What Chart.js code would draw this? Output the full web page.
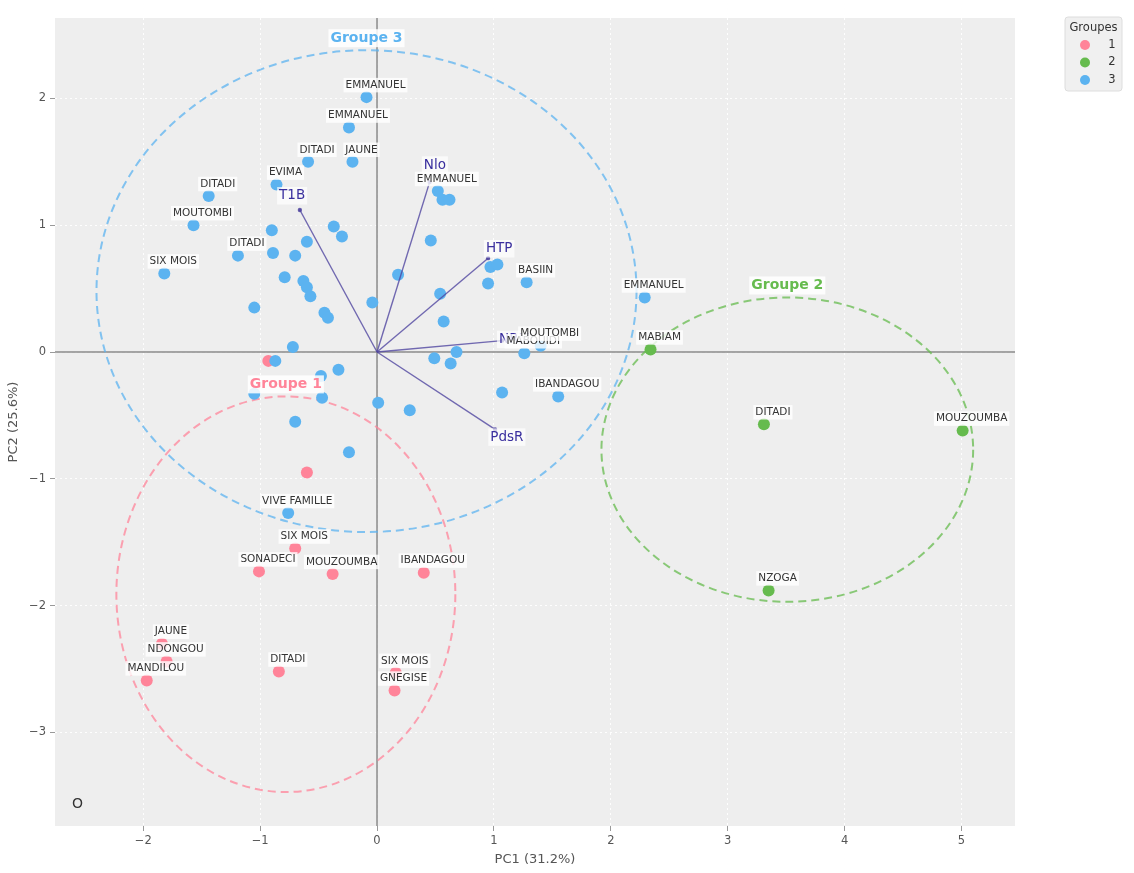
<!DOCTYPE html>
<html>
<head>
<meta charset="utf-8">
<script src="https://cdn.jsdelivr.net/npm/chart.js@4.4.0/dist/chart.umd.min.js"></script>
<style>
html, body { margin: 0; padding: 0; background: #fff; }
#wrap { width: 1134px; height: 873px; }
</style>
</head>
<body>
<div id="wrap"><canvas id="pca"></canvas></div>
<script>
// Groupe 1
var g1Names = ['', '', 'SIX MOIS', 'SONADECI', 'MOUZOUMBA', 'IBANDAGOU', 'JAUNE', 'NDONGOU', 'MANDILOU', 'DITADI', 'SIX MOIS', 'GNEGISE'];
var g1X = [-0.93, -0.60, -0.70, -1.01, -0.38, 0.40, -1.84, -1.80, -1.97, -0.84, 0.16, 0.15];
var g1Y = [-0.07, -0.95, -1.55, -1.73, -1.75, -1.74, -2.30, -2.44, -2.59, -2.52, -2.53, -2.67];

// Groupe 2
var g2Names = ['MABIAM', 'DITADI', 'MOUZOUMBA', 'NZOGA'];
var g2X = [2.34, 3.31, 5.01, 3.35];
var g2Y = [0.02, -0.57, -0.62, -1.88];

// Groupe 3
var g3Names = ['EMMANUEL', 'EMMANUEL', 'DITADI', 'JAUNE', 'EVIMA', 'DITADI', 'MOUTOMBI', 'DITADI', 'SIX MOIS',
  '', '', '', '', '', '', '', '', '', '', '', '', '', '', '', '', '', '', '', '', '', '', '', '',
  'VIVE FAMILLE', 'EMMANUEL', '', '', '', '', '', '', 'BASIIN', '', '', 'MABOUIDI', 'MOUTOMBI',
  '', '', '', '', 'IBANDAGOU', '', 'EMMANUEL'];
var g3X = [-0.09, -0.24, -0.59, -0.21, -0.86, -1.44, -1.57, -1.19, -1.82,
  -0.90, -0.37, -0.30, -0.60, -0.89, -0.70, -0.79, -0.63, -0.60, -0.57, -1.05, -0.45, -0.42, -0.04,
  0.18, -0.72, -0.87, -0.33, -0.48, -1.05, -0.47, 0.01, -0.70, -0.24,
  -0.76, 0.52, 0.56, 0.62, 0.46, 0.97, 1.03, 0.95, 1.28, 0.54, 0.57, 1.26, 1.40,
  0.68, 0.49, 0.63, 1.07, 1.55, 0.28, 2.29];
var g3Y = [2.01, 1.77, 1.50, 1.50, 1.32, 1.23, 1.00, 0.76, 0.62,
  0.96, 0.99, 0.91, 0.87, 0.78, 0.76, 0.59, 0.56, 0.51, 0.44, 0.35, 0.31, 0.27, 0.39,
  0.61, 0.04, -0.07, -0.14, -0.19, -0.33, -0.36, -0.40, -0.55, -0.79,
  -1.27, 1.27, 1.20, 1.20, 0.88, 0.67, 0.69, 0.54, 0.55, 0.46, 0.24, -0.01, 0.05,
  0.00, -0.05, -0.09, -0.32, -0.35, -0.46, 0.43];

// variable loadings (biplot arrows)
var varNames = ['T1B', 'Nlo', 'HTP', 'NRM', 'PdsR'];
var varX = [-0.66, 0.45, 0.95, 1.07, 1.01];
var varY = [1.12, 1.34, 0.74, 0.09, -0.61];

// group ellipses
var groupNames = ['Groupe 1', 'Groupe 2', 'Groupe 3'];
var ellCx = [-0.78, 3.51, -0.09];
var ellCy = [-1.91, -0.77, 0.48];
var ellRx = [1.45, 1.59, 2.31];
var ellRy = [1.56, 1.20, 1.90];

var xTicks = [-2, -1, 0, 1, 2, 3, 4, 5];
var yTicks = [-3, -2, -1, 0, 1, 2];

var colors = ['#ff8499', '#66bb4e', '#5cb3f0'];
var FONT = '"DejaVu Sans", sans-serif';

function toPoints(xs, ys) {
  return xs.map(function (x, i) { return { x: x, y: ys[i] }; });
}

function fmt(v) {
  return v < 0 ? '\u2212' + Math.abs(v) : String(v);
}

function labelBox(ctx, text, x, y, size, weight, color, alpha) {
  ctx.font = weight + ' ' + size + 'px ' + FONT;
  var w = ctx.measureText(text).width;
  ctx.fillStyle = 'rgba(255,255,255,' + alpha + ')';
  ctx.fillRect(x - w / 2 - 2, y - size / 2 - 2, w + 4, size + 4);
  ctx.fillStyle = color;
  ctx.textAlign = 'center';
  ctx.textBaseline = 'middle';
  ctx.fillText(text, x, y);
}

var groupNameLists = [g1Names, g2Names, g3Names];

var datasets = [
  { label: '1', data: toPoints(g1X, g1Y), backgroundColor: colors[0], order: 2 },
  { label: '2', data: toPoints(g2X, g2Y), backgroundColor: colors[1], order: 1 },
  { label: '3', data: toPoints(g3X, g3Y), backgroundColor: colors[2], order: 0 }
];
datasets.forEach(function (d) {
  d.pointRadius = 6;
  d.borderWidth = 0;
  d.pointBorderColor = 'rgba(0,0,0,0)';
});

// arrows as two-point line datasets
varNames.forEach(function (n, i) {
  datasets.push({
    type: 'line',
    label: n,
    data: [{ x: 0, y: 0 }, { x: varX[i], y: varY[i] }],
    borderColor: 'rgba(80,70,160,0.8)',
    borderWidth: 1.4,
    pointRadius: [0, 1.5],
    pointBackgroundColor: 'rgba(80,70,160,0.9)',
    showLine: true,
    fill: false,
    order: -1
  });
});

var biplot = {
  id: 'biplot',
  beforeDraw: function (chart) {
    var ctx = chart.ctx, a = chart.chartArea;
    ctx.save();
    ctx.fillStyle = '#eeeeee';
    ctx.fillRect(a.left, a.top, a.right - a.left, a.bottom - a.top);
    ctx.restore();
  },
  beforeDatasetsDraw: function (chart) {
    var ctx = chart.ctx, a = chart.chartArea;
    var xs = chart.scales.x, ys = chart.scales.y;
    ctx.save();
    // zero lines
    ctx.strokeStyle = '#8a8a8a';
    ctx.lineWidth = 1.5;
    ctx.beginPath();
    var x0 = xs.getPixelForValue(0), y0 = ys.getPixelForValue(0);
    ctx.moveTo(x0, a.top); ctx.lineTo(x0, a.bottom);
    ctx.moveTo(a.left, y0); ctx.lineTo(a.right, y0);
    ctx.stroke();
    // ellipses
    ctx.lineWidth = 2;
    ctx.setLineDash([8, 5]);
    for (var i = 0; i < ellCx.length; i++) {
      var cx = xs.getPixelForValue(ellCx[i]);
      var cy = ys.getPixelForValue(ellCy[i]);
      var rx = Math.abs(xs.getPixelForValue(ellCx[i] + ellRx[i]) - cx);
      var ry = Math.abs(ys.getPixelForValue(ellCy[i] + ellRy[i]) - cy);
      ctx.globalAlpha = 0.75;
      ctx.strokeStyle = colors[i];
      ctx.beginPath();
      ctx.ellipse(cx, cy, rx, ry, 0, 0, Math.PI * 2);
      ctx.stroke();
    }
    ctx.restore();
  },
  afterDatasetsDraw: function (chart) {
    var ctx = chart.ctx, a = chart.chartArea;
    var xs = chart.scales.x, ys = chart.scales.y;
    ctx.save();
    // arrow names
    varNames.forEach(function (n, i) {
      var px = xs.getPixelForValue(varX[i] * 1.1);
      var py = ys.getPixelForValue(varY[i] * 1.1);
      labelBox(ctx, n, px, py, 13.5, 'normal', '#3a2f9e', 0.7);
    });
    // point names
    for (var g = 0; g < 3; g++) {
      var meta = chart.getDatasetMeta(g);
      groupNameLists[g].forEach(function (name, j) {
        if (!name) return;
        var el = meta.data[j];
        labelBox(ctx, name, el.x + 9, el.y - 12, 10.5, 'normal', '#333', 0.8);
      });
    }
    // group titles above each ellipse
    for (var i = 0; i < groupNames.length; i++) {
      var gx = xs.getPixelForValue(ellCx[i]);
      var gy = ys.getPixelForValue(ellCy[i] + ellRy[i]) - 12;
      labelBox(ctx, groupNames[i], gx, gy, 14, 'bold', colors[i], 0.85);
    }
    // corner mark
    ctx.fillStyle = '#333';
    ctx.font = '14px ' + FONT;
    ctx.textAlign = 'left';
    ctx.textBaseline = 'middle';
    ctx.fillText('O', a.left + 17, a.bottom - 22);
    ctx.restore();
  },
  afterDraw: function (chart) {
    // legend
    var ctx = chart.ctx;
    ctx.save();
    var lx = 1065, ly = 17, lw = 57, lh = 74;
    ctx.fillStyle = 'rgba(238,238,238,0.9)';
    ctx.strokeStyle = '#dddddd';
    ctx.lineWidth = 1;
    ctx.beginPath();
    ctx.roundRect(lx, ly, lw, lh, 3);
    ctx.fill();
    ctx.stroke();
    ctx.fillStyle = '#333';
    ctx.font = '11.5px ' + FONT;
    ctx.textAlign = 'center';
    ctx.textBaseline = 'middle';
    ctx.fillText('Groupes', lx + lw / 2, ly + 11);
    for (var i = 0; i < 3; i++) {
      var ry = ly + 28 + i * 17.5;
      ctx.fillStyle = colors[i];
      ctx.beginPath();
      ctx.arc(lx + 20, ry, 5, 0, Math.PI * 2);
      ctx.fill();
      ctx.fillStyle = '#333';
      ctx.fillText(datasets[i].label, lx + 47, ry);
    }
    ctx.restore();
  }
};

new Chart(document.getElementById('pca'), {
  type: 'scatter',
  data: { datasets: datasets },
  options: {
    responsive: true,
    maintainAspectRatio: false,
    animation: false,
    layout: { padding: { top: 18, right: 119, left: 0, bottom: 0 } },
    plugins: {
      legend: { display: false },
      tooltip: { enabled: false }
    },
    scales: {
      x: {
        type: 'linear',
        min: -2.755,
        max: 5.458,
        afterBuildTicks: function (s) { s.ticks = xTicks.map(function (v) { return { value: v }; }); },
        afterFit: function (s) { s.height = 47; },
        grid: { color: 'rgba(255,255,255,0.9)', lineWidth: 1, tickColor: '#999', tickLength: 5 },
        border: { display: false, dash: [2, 3] },
        ticks: { color: '#555', font: { family: FONT, size: 11.5 }, padding: 3, callback: fmt },
        title: { display: true, text: 'PC1 (31.2%)', color: '#555', font: { family: FONT, size: 13 }, padding: { top: 0, bottom: 6 } }
      },
      y: {
        type: 'linear',
        min: -3.738,
        max: 2.634,
        afterBuildTicks: function (s) { s.ticks = yTicks.map(function (v) { return { value: v }; }); },
        afterFit: function (s) { s.width = 55; },
        grid: { color: 'rgba(255,255,255,0.9)', lineWidth: 1, tickColor: '#999', tickLength: 5 },
        border: { display: false, dash: [2, 3] },
        ticks: { color: '#555', font: { family: FONT, size: 11.5 }, padding: 4, callback: fmt },
        title: { display: true, text: 'PC2 (25.6%)', color: '#555', font: { family: FONT, size: 13 }, padding: { top: 6, bottom: 0 } }
      }
    }
  },
  plugins: [biplot]
});
</script>
</body>
</html>
